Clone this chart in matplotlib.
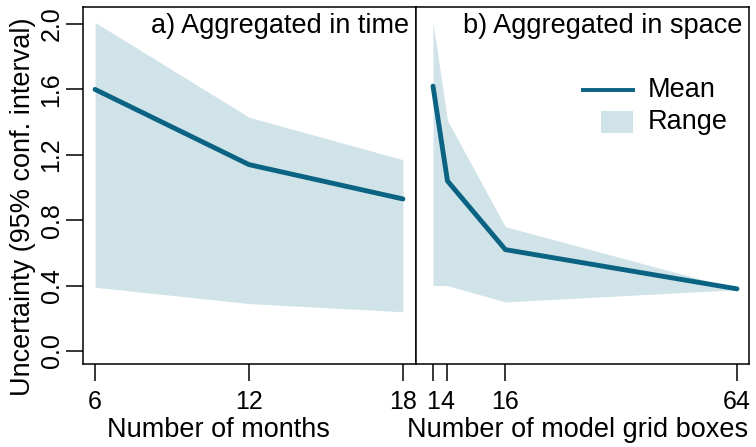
import matplotlib
matplotlib.use("Agg")
import matplotlib.pyplot as plt
from matplotlib.lines import Line2D
from matplotlib.patches import Rectangle

plt.rcParams['font.family'] = ['Liberation Sans', 'DejaVu Sans']

# a) aggregated in time
months = [6, 12, 18]
mean_time = [1.60, 1.14, 0.93]
upper_time = [2.01, 1.43, 1.17]
lower_time = [0.39, 0.29, 0.24]

# b) aggregated in space
boxes = [1, 4, 16, 64]
mean_space = [1.62, 1.04, 0.62, 0.38]
upper_space = [2.01, 1.41, 0.76, 0.38]
lower_space = [0.40, 0.40, 0.30, 0.375]

yticks = [0.0, 0.4, 0.8, 1.2, 1.6, 2.0]

line_col = '#0a6382'
fill_col = '#d0e3e9'

fig = plt.figure(figsize=(7.56, 4.47), dpi=100)
ax1 = fig.add_axes([0.1098, 0.1857, 0.5503 - 0.1098, 0.9843 - 0.1857])
ax2 = fig.add_axes([0.5503, 0.1857, 0.9907 - 0.5503, 0.9843 - 0.1857])

for ax in (ax1, ax2):
    for s in ax.spines.values():
        s.set_linewidth(1.1)
    ax.tick_params(direction='out', length=12, width=1.1, labelsize=18, pad=7)
    ax.set_ylim(-0.0795, 2.104)

ax1.fill_between(months, lower_time, upper_time, color=fill_col, lw=0)
ax1.plot(months, mean_time, color=line_col, lw=3.5, solid_capstyle='round')
ax1.set_xlim(5.53, 18.51)
ax1.set_xticks(months)
ax1.set_yticks(yticks)
ax1.set_yticklabels([f'{v:.1f}' for v in yticks], rotation=90, va='center')
ax1.tick_params(axis='y', pad=2)
ax1.set_ylabel('Uncertainty (95% conf. interval)', fontsize=19.5, va='center')
ax1.yaxis.set_label_coords(-0.18, 0.44)
ax1.set_xlabel('Number of months', fontsize=19.5)
ax1.xaxis.set_label_coords(0.408, -0.148)
ax1.text(0.979, 0.927, 'a) Aggregated in time', transform=ax1.transAxes,
         ha='right', va='baseline', fontsize=19.5)

ax2.fill_between(boxes, lower_space, upper_space, color=fill_col, lw=0)
ax2.plot(boxes, mean_space, color=line_col, lw=3.5, solid_capstyle='round')
ax2.set_xlim(-2.52, 66.49)
ax2.set_xticks(boxes)
ax2.set_xticklabels(['1', '4', '16', '64'])
ax2.set_yticks([])
ax2.set_xlabel('Number of model grid boxes', fontsize=19.5)
ax2.xaxis.set_label_coords(0.486, -0.148)
ax2.text(0.979, 0.927, 'b) Aggregated in space', transform=ax2.transAxes,
         ha='right', va='baseline', fontsize=19.5)

# legend drawn by hand to match the short range swatch
ax2.add_line(Line2D([0.5015, 0.6517], [0.7675, 0.7675], transform=ax2.transAxes,
                    color=line_col, lw=2.8))
ax2.add_patch(Rectangle((0.5556, 0.647), 0.0961, 0.0617, transform=ax2.transAxes,
                        facecolor=fill_col, edgecolor='none'))
ax2.text(0.6967, 0.7675, 'Mean', transform=ax2.transAxes, ha='left', va='center',
         fontsize=19.5)
ax2.text(0.6967, 0.678, 'Range', transform=ax2.transAxes, ha='left', va='center',
         fontsize=19.5)

fig.savefig('out.png', dpi=100)
